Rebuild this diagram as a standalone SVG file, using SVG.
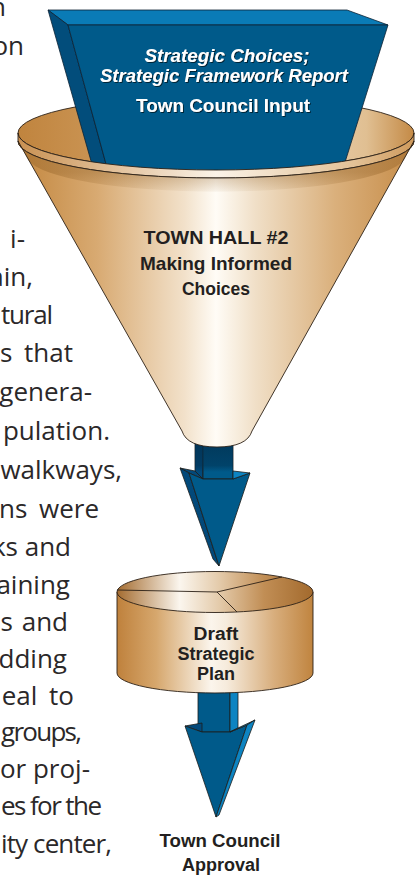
<svg xmlns="http://www.w3.org/2000/svg" width="420" height="876" viewBox="0 0 420 876">
<defs>
<style>
.body{font-family:"Open Sans","Liberation Sans",sans-serif;font-size:26px;fill:#2b2829;text-anchor:end}
.st{text-anchor:start}
.ws{word-spacing:5px}
.lbl{font-family:"Liberation Sans",Arial,sans-serif;font-weight:bold;fill:#231f20;text-anchor:middle}
.wl{fill:#ffffff;filter:url(#ts)}
.it{font-style:italic}
.edge{stroke:#1d1d1b;stroke-width:0.8;stroke-linejoin:round}
.bedge{stroke:#0c2233;stroke-width:0.8;stroke-linejoin:round}
.fr{fill:#005a8a}
.dk{fill:#02497a}
.lt{fill:#0d84c2}
</style>
<filter id="ts" x="-10%" y="-30%" width="120%" height="160%">
<feDropShadow dx="1" dy="1" stdDeviation="0.5" flood-color="#001a2e" flood-opacity="0.9"/>
</filter>
<linearGradient id="coneG" gradientUnits="userSpaceOnUse" x1="18" y1="0" x2="414" y2="0">
<stop offset="0" stop-color="#c3873f"/>
<stop offset="0.2" stop-color="#d8aa72"/>
<stop offset="0.42" stop-color="#f2e1ca"/>
<stop offset="0.5" stop-color="#fffcf6"/>
<stop offset="0.6" stop-color="#f0dfc7"/>
<stop offset="0.8" stop-color="#dab07c"/>
<stop offset="1" stop-color="#c68c48"/>
</linearGradient>
<linearGradient id="lipG" gradientUnits="userSpaceOnUse" x1="18" y1="0" x2="414" y2="0">
<stop offset="0" stop-color="#c99152"/>
<stop offset="0.5" stop-color="#fbf3e8"/>
<stop offset="0.85" stop-color="#e2c196"/>
<stop offset="1" stop-color="#cf9a5c"/>
</linearGradient>
<linearGradient id="inG" gradientUnits="userSpaceOnUse" x1="18" y1="0" x2="414" y2="0">
<stop offset="0" stop-color="#c0843e"/>
<stop offset="0.3" stop-color="#cf9c5e"/>
<stop offset="0.75" stop-color="#e8cdaa"/>
<stop offset="0.88" stop-color="#e0bf92"/>
<stop offset="1" stop-color="#c48a46"/>
</linearGradient>
<linearGradient id="shadeG" gradientUnits="userSpaceOnUse" x1="0" y1="172" x2="0" y2="195">
<stop offset="0" stop-color="#8a5a20" stop-opacity="0.35"/>
<stop offset="1" stop-color="#8a5a20" stop-opacity="0"/>
</linearGradient>
<linearGradient id="cylG" gradientUnits="userSpaceOnUse" x1="117" y1="0" x2="313" y2="0">
<stop offset="0" stop-color="#bf813c"/>
<stop offset="0.2" stop-color="#d6a76d"/>
<stop offset="0.48" stop-color="#fbf5ec"/>
<stop offset="0.56" stop-color="#f6ebdc"/>
<stop offset="0.8" stop-color="#d8ae7d"/>
<stop offset="1" stop-color="#c0843f"/>
</linearGradient>
<linearGradient id="cylTopG" gradientUnits="userSpaceOnUse" x1="117" y1="0" x2="313" y2="0">
<stop offset="0" stop-color="#a46c30"/>
<stop offset="0.32" stop-color="#fbf6ee"/>
<stop offset="0.52" stop-color="#e4cbab"/>
<stop offset="0.75" stop-color="#c18e55"/>
<stop offset="1" stop-color="#a36a2d"/>
</linearGradient>
<linearGradient id="shaftSh" gradientUnits="userSpaceOnUse" x1="0" y1="446" x2="0" y2="472">
<stop offset="0" stop-color="#02304f" stop-opacity="0.75"/>
<stop offset="0.75" stop-color="#02304f" stop-opacity="0.55"/>
<stop offset="1" stop-color="#02304f" stop-opacity="0"/>
</linearGradient>
</defs>
<rect width="420" height="876" fill="#ffffff"/>

<g id="body-text">
<text class="body" x="6" y="16">n</text>
<text class="body" x="24" y="55">on</text>
<text class="body" x="25" y="248">i-</text>
<text class="body" x="33" y="286">ain,</text>
<text class="body st" x="1" y="324" textLength="52" lengthAdjust="spacing">tural</text>
<text class="body ws" x="73" y="362">s that</text>
<text class="body" x="92" y="401">genera-</text>
<text class="body" x="110" y="440">pulation.</text>
<text class="body" x="122" y="479">walkways,</text>
<text class="body ws" x="99" y="518">ns were</text>
<text class="body" x="71" y="556">ks and</text>
<text class="body" x="70" y="594">aining</text>
<text class="body" x="68" y="631" word-spacing="2">s and</text>
<text class="body" x="67" y="668">dding</text>
<text class="body ws" x="74" y="705">eal to</text>
<text class="body st" x="1" y="741" textLength="81" lengthAdjust="spacing">groups,</text>
<text class="body st" x="0" y="778" textLength="90" lengthAdjust="spacing">or proj-</text>
<text class="body st" x="1" y="815" textLength="101" lengthAdjust="spacing">es for the</text>
<text class="body st" x="1" y="853" textLength="111" lengthAdjust="spacing">ity center,</text>
</g>

<g id="connectors">
<g id="arrow-funnel-to-plan">
<polygon class="dk edge" points="195,440 203,440 203,479 195,471"/>
<polygon class="fr edge" points="203,440 233,440 233,479 203,479"/>
<rect x="195" y="440" width="38" height="33" fill="url(#shaftSh)"/>
<polygon class="dk edge" points="180,468 195,471 203,479 189,473"/>
<polygon class="dk edge" points="180,468 189,473 219,566 213,559"/>
<polygon class="fr edge" points="189,473 203,479 233,479 250,473 219,566"/>
<polygon class="lt edge" points="233,471 250,473 233,479"/>
</g>
<g id="arrow-plan-to-approval">
<polygon class="fr edge" points="198,688 230,688 230,732 198,732"/>
<polygon class="lt edge" points="230,688 238,688 238,728 230,732"/>
<polygon class="dk edge" points="185,726 202,723 202,732"/>
<polygon class="fr edge" points="185,726 202,732 230,732 247,725 216,817"/>
<polygon class="lt edge" points="230,732 238,728 255,720 247,725"/>
<polygon class="lt edge" points="247,725 255,720 219,815 216,817"/>
</g>
</g>

<g id="funnel-back">
<ellipse cx="216" cy="133" rx="198" ry="37" fill="url(#inG)" stroke="#2b2016" stroke-width="0.9"/>
</g>

<g id="report">
<polygon points="48,10 347,10 388,25 68,25" fill="#0a7bb6" class="bedge"/>
<polygon points="48,10 68,25 109,175 95,175" fill="#024d7b" class="bedge"/>
<polygon points="68,25 388,25 341,175 109,175" fill="#005a8a" class="bedge"/>
<text class="lbl wl it" x="227" y="62" font-size="18.5" textLength="165" lengthAdjust="spacingAndGlyphs">Strategic Choices;</text>
<text class="lbl wl it" x="224" y="82" font-size="18.5" textLength="248" lengthAdjust="spacingAndGlyphs">Strategic Framework Report</text>
<text class="lbl wl" x="223" y="112" font-size="18.5" textLength="174" lengthAdjust="spacingAndGlyphs">Town Council Input</text>
</g>

<g id="funnel">
<path d="M18,133 A198,37 0 0 0 414,133 L414,141 A198,37 0 0 1 18,141 Z" fill="url(#lipG)" stroke="#2b2016" stroke-width="0.9" stroke-linejoin="round"/>
<path d="M18,141 A198,37 0 0 0 414,141 L252,431 Q247,447 217,447 Q187,447 182,431 Z" fill="url(#coneG)"/>
<path d="M18,141 A198,37 0 0 0 414,141 L404,160 A190,37 0 0 1 28,160 Z" fill="url(#shadeG)"/>
<path d="M18,141 A198,37 0 0 0 414,141 L252,431 Q247,447 217,447 Q187,447 182,431 Z" fill="none" stroke="#2b2016" stroke-width="0.9" stroke-linejoin="round"/>
<text class="lbl" x="216" y="244" font-size="18.5" textLength="145" lengthAdjust="spacingAndGlyphs">TOWN HALL #2</text>
<text class="lbl" x="216" y="270" font-size="18.5" textLength="152" lengthAdjust="spacingAndGlyphs">Making Informed</text>
<text class="lbl" x="216" y="295" font-size="18.5" textLength="68" lengthAdjust="spacingAndGlyphs">Choices</text>
</g>

<g id="draft-plan">
<path d="M117,592 L117,673 A98,20 0 0 0 313,673 L313,592 Z" fill="url(#cylG)" stroke="#2b2016" stroke-width="0.9"/>
<ellipse cx="215" cy="592" rx="98" ry="20.5" fill="url(#cylTopG)" stroke="#2b2016" stroke-width="0.9"/>
<path d="M117,590 L217,592 L282,577 M217,592 L237,612" fill="none" stroke="#2b2016" stroke-width="0.9"/>
<text class="lbl" x="216" y="640" font-size="17.5" textLength="45" lengthAdjust="spacingAndGlyphs">Draft</text>
<text class="lbl" x="216" y="660" font-size="17.5" textLength="77" lengthAdjust="spacingAndGlyphs">Strategic</text>
<text class="lbl" x="216" y="680" font-size="17.5" textLength="38" lengthAdjust="spacingAndGlyphs">Plan</text>
</g>

<g id="approval">
<text class="lbl" x="220" y="847" font-size="18" textLength="121" lengthAdjust="spacingAndGlyphs">Town Council</text>
<text class="lbl" x="221" y="871" font-size="18" textLength="78" lengthAdjust="spacingAndGlyphs">Approval</text>
</g>
</svg>
